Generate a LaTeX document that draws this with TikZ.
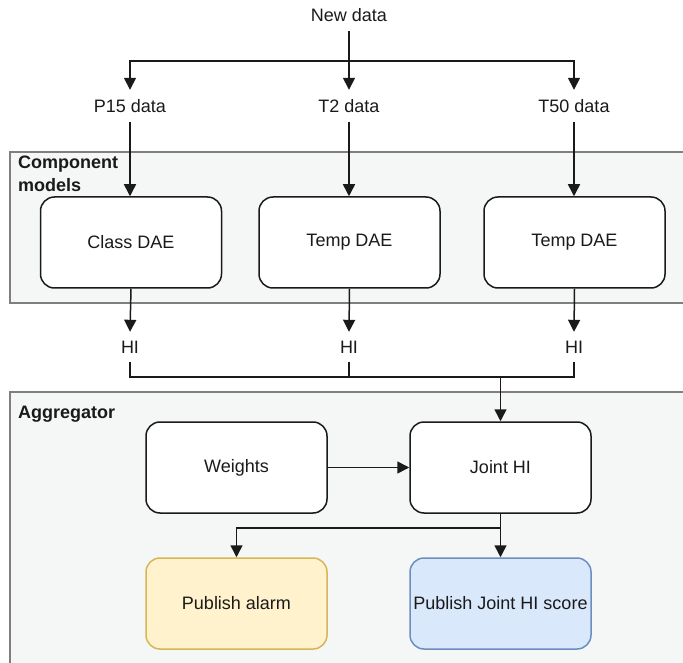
\documentclass[tikz,border=0pt]{standalone}
\usepackage{fontspec}
\setmainfont{Liberation Sans}
\usetikzlibrary{arrows.meta}
\definecolor{linec}{HTML}{1A1A1A}
\definecolor{groupfill}{HTML}{F5F6F6}
\definecolor{groupline}{HTML}{7F7F7F}
\definecolor{alarmfill}{HTML}{FFF2CC}
\definecolor{alarmline}{HTML}{D6B656}
\definecolor{scorefill}{HTML}{DAE8FC}
\definecolor{scoreline}{HTML}{6C8EBF}
\tikzset{
  every node/.style={font=\fontsize{18}{21}\selectfont, text=linec},
  procbox/.style={draw=linec, line width=1.5pt, fill=white, rounded corners=14pt,
    minimum width=181pt, minimum height=91pt, inner sep=0pt},
  label/.style={inner sep=0pt, minimum height=32pt},
  hilabel/.style={inner sep=0pt, minimum height=30pt},
  grouptitle/.style={font=\fontsize{18}{23}\selectfont\bfseries, align=left, anchor=north west, inner sep=0pt},
  wire/.style={draw=linec, line width=1.5pt},
  arr/.style={wire, -{Triangle[width=12pt,length=12pt]}},
}
\begin{document}
\begin{tikzpicture}[x=1pt, y=-1pt]
\useasboundingbox (0,0) rectangle (683,663);

% group containers (open on the right and bottom edges)
\fill[groupfill] (10,152) rectangle (683,303);
\draw[groupline, line width=1.4pt] (683,152) -- (10,152) -- (10,303) -- (683,303);
\fill[groupfill] (10,392) rectangle (683,663);
\draw[groupline, line width=1.4pt] (683,392) -- (10,392) -- (10,663);

\node[grouptitle] (tcomp) at (18,156) {Component\\models};
\node[grouptitle] (tagg) at (18,406) {Aggregator};

% inputs
\node[label] (newdata) at (349,15) {New data};
\node[label] (p15) at (130,106) {P15 data};
\node[label] (t2) at (349,106) {T2 data};
\node[label] (t50) at (574,106) {T50 data};

% component models
\node[procbox] (classdae) at (131,242.5) {Class DAE};
\node[procbox] (tempdae1) at (349.5,242.5) {Temp DAE};
\node[procbox] (tempdae2) at (574.5,242.5) {Temp DAE};

% health indicators
\node[hilabel] (hi1) at (130,347) {HI};
\node[hilabel] (hi2) at (349,347) {HI};
\node[hilabel] (hi3) at (574,347) {HI};

% aggregator
\node[procbox] (weights) at (236.5,467.5) {Weights};
\node[procbox] (joint) at (500.5,467.5) {Joint HI};
\node[procbox, draw=alarmline, fill=alarmfill] (alarm) at (236.5,603.5) {Publish alarm};
\node[procbox, draw=scoreline, fill=scorefill] (score) at (500.5,603.5) {Publish Joint HI score};

% fan-out of the new data
\coordinate (fan) at (349,61);
\draw[wire] (newdata.south) -- (fan);
\draw[arr] (fan) -| (p15.north);
\draw[arr] (fan) -| (t50.north);
\draw[arr] (fan) -- (t2.north);

\draw[arr] (p15.south) -- (classdae.north -| p15.south);
\draw[arr] (t2.south) -- (tempdae1.north -| t2.south);
\draw[arr] (t50.south) -- (tempdae2.north -| t50.south);

\draw[arr] (classdae.south) -- (hi1.north);
\draw[arr] (tempdae1.south) -- (hi2.north);
\draw[arr] (tempdae2.south) -- (hi3.north);

% collecting bar of the HI values
\coordinate (bar) at (349,377);
\coordinate (barj) at (500.5,377);
\draw[wire] (hi1.south) |- (bar) -| (hi3.south);
\draw[wire] (hi2.south) -- (bar);
\draw[arr] (barj) -- (joint.north);

\draw[arr] (weights) -- (joint);

% outputs
\coordinate (split) at (500.5,528);
\draw[arr] (joint.south) -- (score.north);
\draw[arr] (split) -| (alarm.north);
\end{tikzpicture}
\end{document}
